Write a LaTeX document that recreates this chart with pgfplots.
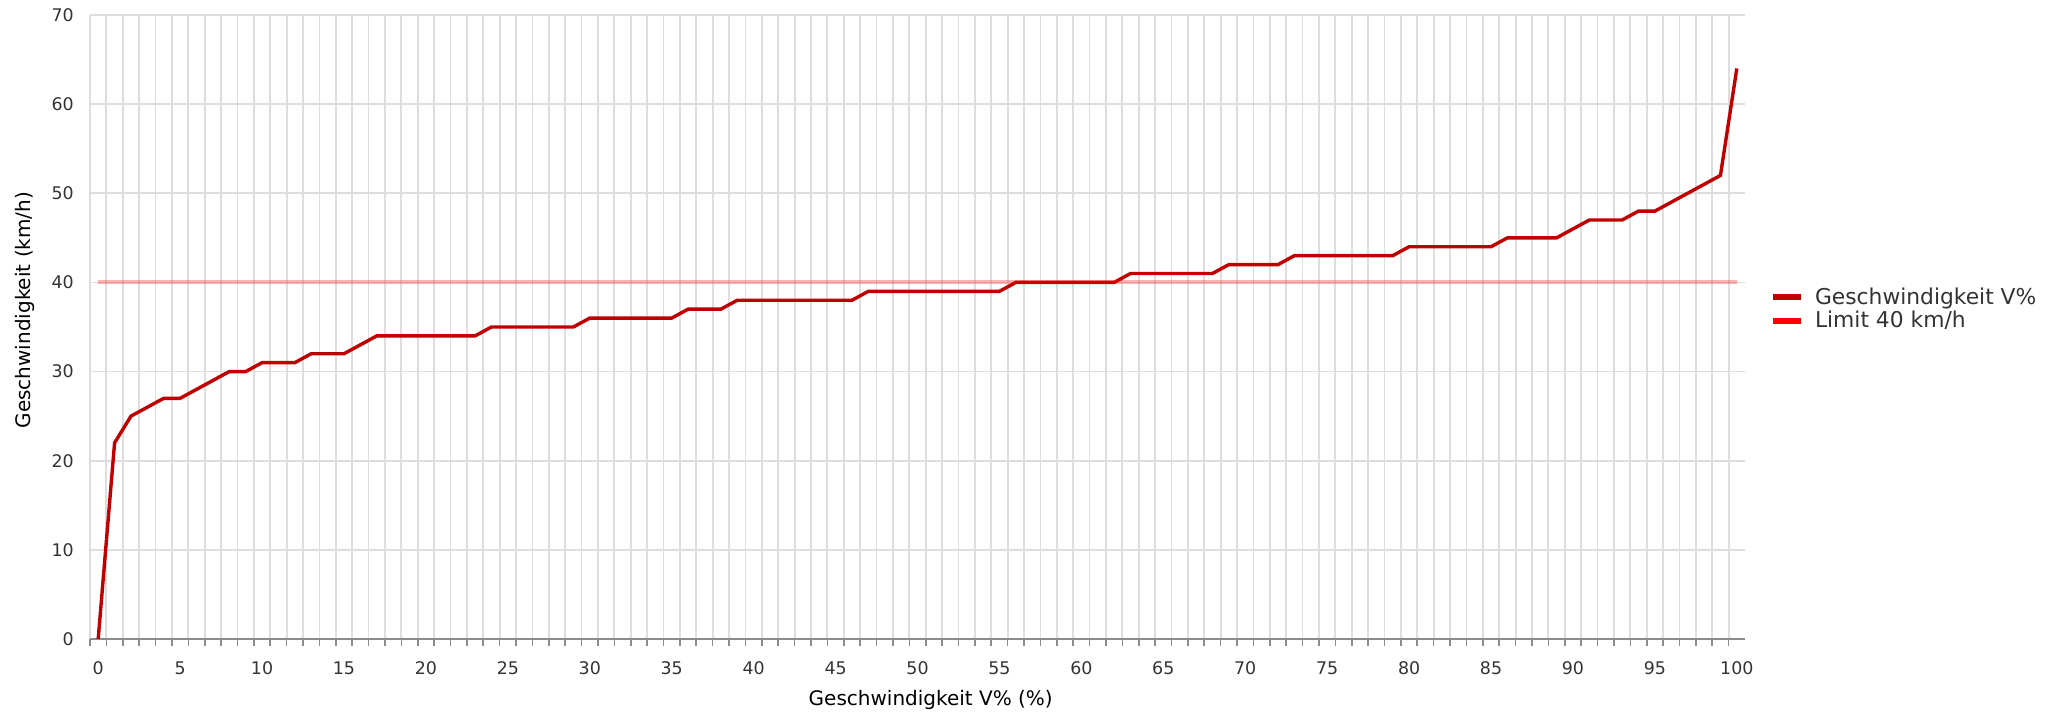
\documentclass[border=0pt]{standalone}
\usepackage{fontspec}
\setmainfont{DejaVu Sans}
\usepackage{pgfplots}
\usepackage{pgfplotstable}
\pgfplotsset{compat=1.18}
\definecolor{mainred}{HTML}{C00000}
\definecolor{gridgray}{HTML}{DEDEDE}
\definecolor{axgray}{HTML}{8C8C8C}
\definecolor{txt}{HTML}{333333}

\pgfplotstableread{
x y
0 0
1 22
2 25
3 26
4 27
5 27
6 28
7 29
8 30
9 30
10 31
11 31
12 31
13 32
14 32
15 32
16 33
17 34
18 34
19 34
20 34
21 34
22 34
23 34
24 35
25 35
26 35
27 35
28 35
29 35
30 36
31 36
32 36
33 36
34 36
35 36
36 37
37 37
38 37
39 38
40 38
41 38
42 38
43 38
44 38
45 38
46 38
47 39
48 39
49 39
50 39
51 39
52 39
53 39
54 39
55 39
56 40
57 40
58 40
59 40
60 40
61 40
62 40
63 41
64 41
65 41
66 41
67 41
68 41
69 42
70 42
71 42
72 42
73 43
74 43
75 43
76 43
77 43
78 43
79 43
80 44
81 44
82 44
83 44
84 44
85 44
86 45
87 45
88 45
89 45
90 46
91 47
92 47
93 47
94 48
95 48
96 49
97 50
98 51
99 52
100 64
}\speed

\pgfplotstableread{
x y
0 40
100 40
}\limit

\begin{document}
\begin{tikzpicture}
\begin{axis}[name=ax, scale only axis, width=827.5pt, height=312pt,
  xmin=-0.5, xmax=100.5, ymin=0, ymax=70,
  axis x line*=bottom, axis y line*=left,
  x axis line style={draw=axgray, line width=0.8pt, -},
  y axis line style={draw=none},
  xtick={-0.5,0.5,...,99.5}, xticklabels={},
  xtick align=outside, major tick length=3.5pt,
  x tick style={axgray, line width=0.8pt},
  extra x ticks={0,5,...,100},
  extra x tick labels={0,5,10,15,20,25,30,35,40,45,50,55,60,65,70,75,80,85,90,95,100},
  extra x tick style={grid=none, major tick length=0pt, tick style={draw=none},
    tick label style={yshift=-8pt}},
  ytick={0,10,...,70}, y tick style={draw=none},
  yticklabel style={xshift=-4.6pt},
  grid=major, major grid style={gridgray, line width=0.9pt},
  tick label style={font=\fontsize{8.7}{10}\selectfont, text=txt},
  /pgf/number format/assume math mode=true,
  xlabel={Geschwindigkeit V\% (\%)},
  ylabel={Geschwindigkeit (km/h)},
  label style={font=\fontsize{10.9}{12}\selectfont, text=txt},
  every axis x label/.style={at={(axis description cs:0.508,-0.1069)}, anchor=base},
  every axis y label/.style={at={(axis description cs:-0.03583,0.527)}, rotate=90, anchor=base},
  legend style={at={(axis description cs:1.0151,0.5288)}, anchor=west, draw=none, fill=none,
    inner sep=0pt, row sep=0pt, column sep=4.5pt, font=\fontsize{10.9}{12}\selectfont, text=txt,
    nodes={inner sep=1pt}},
  legend cell align=left,
  legend image code/.code={\draw[#1] (0pt,0pt) -- (14pt,0pt);},
]
\addplot[mainred, line width=1.7pt, forget plot] table[x=x,y=y] {\speed};
\addplot[red, draw opacity=0.3, line width=2pt, forget plot] table[x=x,y=y] {\limit};
\addlegendimage{mainred, line width=2.8pt}
\addlegendentry{Geschwindigkeit V\%}
\addlegendimage{red, line width=2.8pt}
\addlegendentry{Limit 40 km/h}
\end{axis}
\path ([shift={(-45pt,-37.5pt)}]ax.south west) rectangle ([shift={(156.5pt,7.5pt)}]ax.north east);
\end{tikzpicture}
\end{document}
